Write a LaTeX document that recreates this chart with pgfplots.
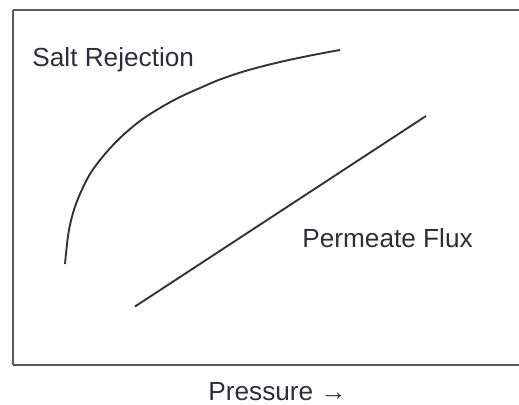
\documentclass[border=0pt]{standalone}
\usepackage{pgfplots}
\pgfplotsset{compat=1.18}
\usepackage{fontspec}
\setmainfont{Liberation Sans}
\definecolor{axgray}{HTML}{5A5A5A}
\definecolor{curve}{HTML}{333333}
\definecolor{txt}{HTML}{2E2E3A}
\begin{document}
\begin{tikzpicture}
\begin{axis}[
  x=0.5pt, y=0.5pt,
  xmin=13, xmax=519, ymin=39, ymax=394,
  axis y line*=left, axis x line*=box,
  axis line style={axgray, line width=1pt},
  xtick=\empty, ytick=\empty,
  clip=false,
]
\addplot[curve, line width=0.95pt, no markers, smooth, tension=0.6] coordinates {
  (65,140) (68.3,170) (73.3,192) (80,210) (90,230) (103.3,248)
  (120,266) (140,283) (160,296) (180,307) (200,316) (220,324.5)
  (247,333.5) (280,342) (313,349) (340,354)
};
\addplot[curve, line width=0.95pt, no markers] coordinates {(135,97.5) (426,288)};
\node[anchor=base west, txt, font=\fontsize{13.1}{15}\selectfont, inner sep=0pt] at (axis cs:32,338) {Salt Rejection};
\node[anchor=base west, txt, font=\fontsize{13.1}{15}\selectfont, inner sep=0pt] at (axis cs:302,157) {Permeate Flux};
\node[anchor=base west, txt, font=\fontsize{13.1}{15}\selectfont, inner sep=0pt] at (axis cs:208,4) {Pressure →};
\coordinate (bl) at (axis cs:0,0);
\coordinate (tr) at (axis cs:519,404);
\end{axis}
\pgfresetboundingbox
\path (bl) rectangle (tr);
\end{tikzpicture}
\end{document}
